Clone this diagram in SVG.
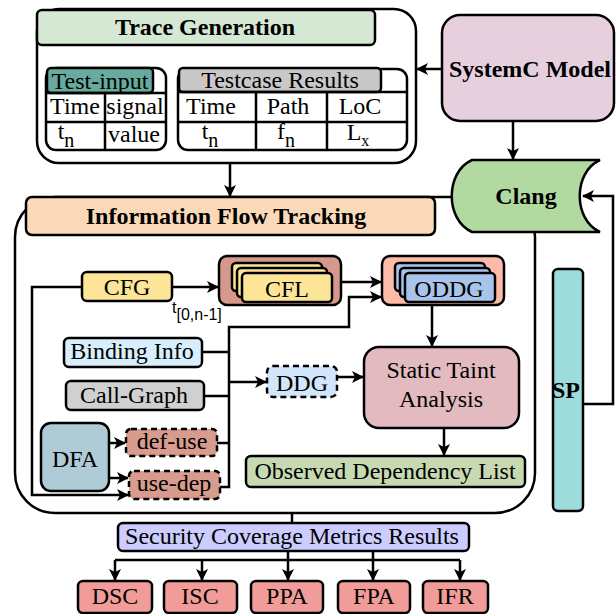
<svg xmlns="http://www.w3.org/2000/svg" width="616" height="614" viewBox="0 0 616 614">
<defs>
<style>
.t{font-family:"Liberation Serif","Times New Roman",serif;font-size:24px;fill:#000;text-anchor:middle}
.b{font-weight:bold}
.box{stroke:#000;stroke-width:2.5}
.dash{stroke-dasharray:6 4}
.ln{fill:none;stroke:#000;stroke-width:2.5}
.s{font-family:"Liberation Sans",Arial,sans-serif;font-size:16px;fill:#000}
</style>
<marker id="ah" viewBox="0 0 12 12" refX="11" refY="6" markerWidth="12" markerHeight="12" markerUnits="userSpaceOnUse" orient="auto">
<path d="M0,0 L12,6 L0,12 L3,6 Z" fill="#000"/>
</marker>
</defs>
<rect width="616" height="614" fill="#fff"/>

<!-- Trace Generation -->
<g id="trace-generation">
<rect class="box" x="37" y="9" width="379" height="154" rx="22" fill="#fff"/>
<rect class="box" x="37" y="10" width="338" height="35" rx="5" fill="#d5e8d4"/>
<text class="t b" x="205" y="35">Trace Generation</text>
</g>
<g id="test-input">
<rect class="box" x="46" y="68" width="120" height="82" rx="10" fill="#fff"/>
<rect class="box" x="47" y="68" width="106" height="25" rx="4" fill="#67ab9f"/>
<path class="ln" d="M46,93 H166 M46,122 H166 M105,93 V150"/>
<text class="t" x="100" y="89">Test-input</text>
<text class="t" x="75" y="114">Time</text>
<text class="t" x="135" y="114">signal</text>
<text class="t" x="66" y="139" font-size="22">t<tspan font-size="20" dy="8">n</tspan></text>
<text class="t" x="134" y="142">value</text>
</g>
<g id="testcase-results">
<rect class="box" x="178" y="69" width="229" height="81" rx="10" fill="#fff"/>
<rect class="box" x="179" y="68" width="202" height="24" rx="4" fill="#c8c8c8"/>
<path class="ln" d="M178,92 H407 M178,122 H407 M256,92 V150 M327,92 V150"/>
<text class="t" x="280" y="88">Testcase Results</text>
<text class="t" x="211" y="114">Time</text>
<text class="t" x="288" y="114">Path</text>
<text class="t" x="360" y="114">LoC</text>
<text class="t" x="210" y="139" font-size="22">t<tspan font-size="20" dy="8">n</tspan></text>
<text class="t" x="286" y="139" font-size="22">f<tspan font-size="20" dy="8">n</tspan></text>
<text class="t" x="358" y="140" font-size="19">L<tspan font-size="16" dy="6">x</tspan></text>
</g>

<!-- SystemC -->
<g id="systemc-model">
<rect class="box" x="442" y="15" width="172" height="106" rx="18" fill="#e6d0de"/>
<text class="t b" x="530" y="77">SystemC Model</text>
</g>

<!-- IFT outer -->
<g id="information-flow-tracking">
<rect class="box" x="15" y="197" width="520" height="316" rx="40" fill="#fff"/>
<rect class="box" x="26" y="197" width="409" height="38" rx="6" fill="#fad9b9"/>
<text class="t b" x="226" y="224">Information Flow Tracking</text>
</g>

<!-- Clang -->
<g id="clang">
<path class="box" d="M472,160 L600,160 C573,172 573,220 600,232 L472,232 C445,220 445,172 472,160 Z" fill="#b1d9a0"/>
<text class="t b" x="526" y="204">Clang</text>
</g>

<!-- SP -->
<g id="sp">
<rect class="box" x="553" y="269" width="30" height="242" rx="5" fill="#9edcdc"/>
<text class="t b" x="566" y="398">SP</text>
</g>

<g id="cfg">
<rect class="box" x="82" y="272" width="90" height="29" rx="5" fill="#fde598"/>
<text class="t" x="127" y="295">CFG</text>
</g>

<g id="cfl">
<rect class="box" x="219" y="256" width="122" height="49" rx="8" fill="#d4998b"/>
<rect class="box" x="232" y="263" width="90" height="28" rx="4" fill="#fde598"/>
<rect class="box" x="237" y="268" width="90" height="29" rx="4" fill="#fde598"/>
<rect class="box" x="242" y="273" width="90" height="29" rx="4" fill="#fde598"/>
<text class="t" x="287" y="297">CFL</text>
</g>

<g id="oddg">
<rect class="box" x="382" y="256" width="122" height="49" rx="8" fill="#fcbba8"/>
<rect class="box" x="395" y="263" width="90" height="28" rx="4" fill="#a9c4eb"/>
<rect class="box" x="400" y="268" width="90" height="29" rx="4" fill="#a9c4eb"/>
<rect class="box" x="405" y="273" width="90" height="29" rx="4" fill="#a9c4eb"/>
<text class="t" x="449" y="297">ODDG</text>
</g>

<g id="binding-info">
<rect class="box" x="64" y="338" width="138" height="29" rx="5" fill="#d7effc"/>
<text class="t" x="132" y="359">Binding Info</text>
</g>

<g id="call-graph">
<rect class="box" x="66" y="381" width="138" height="29" rx="5" fill="#d0d0d0"/>
<text class="t" x="134" y="403">Call-Graph</text>
</g>

<g id="dfa">
<rect class="box" x="41" y="423" width="68" height="68" rx="10" fill="#aecbd6"/>
<text class="t" x="75" y="467">DFA</text>
</g>

<g id="def-use">
<rect class="box dash" x="126" y="429" width="91" height="27" rx="5" fill="#d89c8e"/>
<text class="t" x="172" y="449">def-use</text>
</g>

<g id="use-dep">
<rect class="box dash" x="129" y="471" width="91" height="28" rx="5" fill="#d89c8e"/>
<text class="t" x="174" y="491">use-dep</text>
</g>

<g id="ddg">
<rect class="box dash" x="267" y="366" width="70" height="31" rx="6" fill="#d2e5fa"/>
<text class="t" x="302" y="391">DDG</text>
</g>

<g id="static-taint-analysis">
<rect class="box" x="364" y="347" width="155" height="81" rx="15" fill="#e3bac0"/>
<text class="t" x="441" y="378">Static Taint</text>
<text class="t" x="441" y="407">Analysis</text>
</g>

<g id="observed-dependency-list">
<rect class="box" x="246" y="456" width="279" height="31" rx="5" fill="#c6d9b1"/>
<text class="t" x="385" y="479">Observed Dependency List</text>
</g>

<g id="security-coverage-metrics-results">
<rect class="box" x="118" y="523" width="351" height="28" rx="5" fill="#ccccff"/>
<text class="t" x="292" y="544">Security Coverage Metrics Results</text>
</g>

<g id="dsc"><rect class="box" x="78" y="581" width="74" height="32" rx="5" fill="#f19c99"/><text class="t" x="115" y="604">DSC</text></g>
<g id="isc"><rect class="box" x="164" y="581" width="73" height="32" rx="5" fill="#f19c99"/><text class="t" x="200" y="604">ISC</text></g>
<g id="ppa"><rect class="box" x="251" y="581" width="72" height="32" rx="5" fill="#f19c99"/><text class="t" x="287" y="604">PPA</text></g>
<g id="fpa"><rect class="box" x="338" y="581" width="72" height="32" rx="5" fill="#f19c99"/><text class="t" x="374" y="604">FPA</text></g>
<g id="ifr"><rect class="box" x="423" y="581" width="65" height="32" rx="5" fill="#f19c99"/><text class="t" x="455" y="604">IFR</text></g>

<!-- connectors -->
<g id="connectors">
<path class="ln" d="M441,69 H417" marker-end="url(#ah)"/>
<path class="ln" d="M513,121 V159" marker-end="url(#ah)"/>
<path class="ln" d="M230,163 V196" marker-end="url(#ah)"/>
<path class="ln" d="M583,404 H613 V196 H583" marker-end="url(#ah)"/>
<path class="ln" d="M172,287 H218" marker-end="url(#ah)"/>
<text class="s" x="172" y="313">t<tspan dy="7">[0,n-1]</tspan></text>
<path class="ln" d="M82,287 H32 V495 H128" marker-end="url(#ah)"/>
<path class="ln" d="M341,282 H381" marker-end="url(#ah)"/>
<path class="ln" d="M220,487 H229 V327 H349 V297 H381" marker-end="url(#ah)"/>
<path class="ln" d="M202,352 H229 M204,396 H229 M217,443 H229"/>
<path class="ln" d="M229,382 H266" marker-end="url(#ah)"/>
<path class="ln" d="M337,377 H363" marker-end="url(#ah)"/>
<path class="ln" d="M432,305 V346" marker-end="url(#ah)"/>
<path class="ln" d="M444,428 V455" marker-end="url(#ah)"/>
<path class="ln" d="M109,443 H125" marker-end="url(#ah)"/>
<path class="ln" d="M109,478 H128" marker-end="url(#ah)"/>
<path class="ln" d="M292,513 V523"/>
<path class="ln" d="M115,560 H460"/>
<path class="ln" d="M115,560 V580" marker-end="url(#ah)"/>
<path class="ln" d="M202,560 V580" marker-end="url(#ah)"/>
<path class="ln" d="M288,551 V580" marker-end="url(#ah)"/>
<path class="ln" d="M373,551 V580" marker-end="url(#ah)"/>
<path class="ln" d="M460,560 V580" marker-end="url(#ah)"/>
</g>
</svg>
